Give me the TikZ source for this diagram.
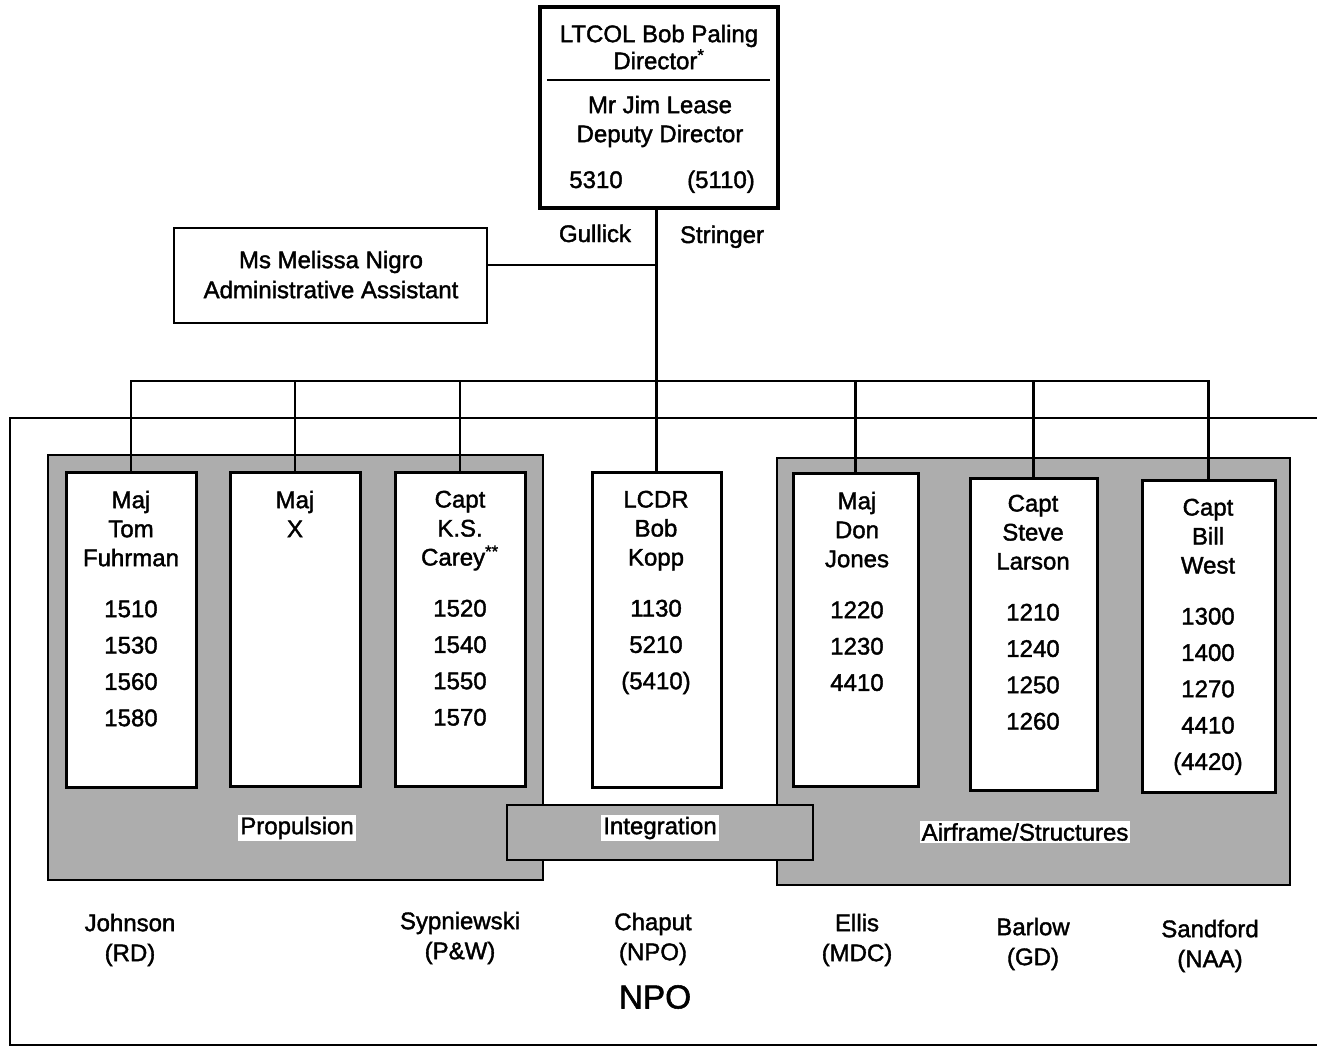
\documentclass[tikz,border=0pt]{standalone}
\usepackage{fontspec}
\newfontfamily\hv{Liberation Sans}[FakeBold=1.6]
\usetikzlibrary{fit}
\begin{document}
\begin{tikzpicture}[x=0.75pt,y=-0.75pt,
  txt/.style={font=\hv\fontsize{18pt}{21.75pt}\selectfont, align=center, inner sep=0pt},
  whitebox/.style={draw, line width=2.25pt, fill=white, inner sep=0pt},
  panel/.style={draw, line width=1.8pt, fill=black!32, inner sep=0pt},
  conn/.style={line width=1.6pt},
  frame/.style={line width=2.2pt},
  lbl/.style={font=\hv\fontsize{18pt}{21.75pt}\selectfont, fill=white, inner sep=1.5pt}]
\useasboundingbox (0,0) rectangle (1317,1050);

% director and admin
\node[whitebox, line width=2.4pt, fit={(540,7) (778,208)}] (dir) {};
\draw[line width=1.2pt] (547,80) -- (770,80);
\node[txt, anchor=north, text depth=0pt] (dirT) at (659,24.5) {LTCOL Bob Paling\\[-1.5pt]Director\textsuperscript{*}};
\node[txt, anchor=north] (depT) at (660,95.5) {Mr Jim Lease\\Deputy Director};
\node[txt, anchor=base] (n5310) at (596,188) {5310};
\node[txt, anchor=base] (n5110) at (721,188) {(5110)};
\node[txt, anchor=base] (gul) at (595,242) {Gullick};
\node[txt, anchor=base] (str) at (722,243) {Stringer};

\node[draw, line width=2pt, inner sep=0pt, fit={(174,228) (487,323)}] (adm) {};
\node[txt, anchor=north] (admT) at (331,250.5) {Ms Melissa Nigro\\[0.75pt]Administrative Assistant};

% NPO frame
\draw[frame] (1317,418) -- (10,418) -- (10,1045) -- (1317,1045);

% grey panels
\node[panel, fit={(48,455) (543,880)}] (prop) {};
\node[panel, fit={(777,458) (1290,885)}] (air) {};

% white boxes
\node[whitebox, fit={(66,472) (196,787)}] (fuhr) {};
\node[whitebox, fit={(230,472) (360,786)}] (majx) {};
\node[whitebox, fit={(395,472) (525,786)}] (carey) {};
\node[whitebox, fit={(592,472) (721,787)}] (kopp) {};
\node[whitebox, fit={(793,473) (918,786)}] (jones) {};
\node[whitebox, fit={(970,478) (1097,790)}] (larson) {};
\node[whitebox, fit={(1142,480) (1275,792)}] (west) {};

% integration bar
\node[panel, fit={(507,805) (813,860)}] (integ) {};

% connectors
\coordinate (busy) at (0,381);
\coordinate (admj) at (656,265);
\draw[conn] (kopp.north |- dir.south) -- (kopp.north);
\draw[conn] (adm.east |- admj) -- (admj);
\draw[conn] (fuhr.north) -- (fuhr.north |- busy) -- (west.north |- busy) -- (west.north);
\draw[conn] (majx.north) -- (majx.north |- busy);
\draw[conn] (carey.north) -- (carey.north |- busy);
\draw[conn] (jones.north) -- (jones.north |- busy);
\draw[conn] (larson.north) -- (larson.north |- busy);

% box texts
\node[txt, anchor=north] (fuhrT) at (131,490.5) {Maj\\Tom\\Fuhrman\\[16.5pt]1510\\[5.5pt]1530\\[5.5pt]1560\\[5.5pt]1580};
\node[txt, anchor=north] (majxT) at (295,490.5) {Maj\\X};
\node[txt, anchor=north] (careyT) at (460,490.5) {Capt\\K.S.\\Carey\textsuperscript{**}\\[16.5pt]1520\\[5.5pt]1540\\[5.5pt]1550\\[5.5pt]1570};
\node[txt, anchor=north] (koppT) at (656,490.5) {LCDR\\Bob\\Kopp\\[16.5pt]1130\\[5.5pt]5210\\[5.5pt](5410)};
\node[txt, anchor=north] (jonesT) at (857,491.5) {Maj\\Don\\Jones\\[16.5pt]1220\\[5.5pt]1230\\[5.5pt]4410};
\node[txt, anchor=north] (larsonT) at (1033,494.5) {Capt\\Steve\\Larson\\[16.5pt]1210\\[5.5pt]1240\\[5.5pt]1250\\[5.5pt]1260};
\node[txt, anchor=north] (westT) at (1208,498.5) {Capt\\Bill\\West\\[16.5pt]1300\\[5.5pt]1400\\[5.5pt]1270\\[5.5pt]4410\\[5.5pt](4420)};

% panel labels
\node[lbl] (propL) at (297,828) {Propulsion};
\node[lbl] (integL) at (660,828) {Integration};
\node[lbl] (airL) at (1025,832) {Airframe/Structures};

% bottom labels
\node[txt, anchor=north] (john) at (130,913.5) {Johnson\\[0.75pt](RD)};
\node[txt, anchor=north] (syp) at (460,911.5) {Sypniewski\\[0.75pt](P\&W)};
\node[txt, anchor=north] (chap) at (653,912.5) {Chaput\\[0.75pt](NPO)};
\node[txt, anchor=north] (ellis) at (857,913.5) {Ellis\\[0.75pt](MDC)};
\node[txt, anchor=north] (barl) at (1033,917.5) {Barlow\\[0.75pt](GD)};
\node[txt, anchor=north] (sand) at (1210,919.5) {Sandford\\[0.75pt](NAA)};
\node[font=\hv\fontsize{25pt}{30pt}\selectfont, inner sep=0pt] (npo) at (655,997) {NPO};
\end{tikzpicture}
\end{document}
